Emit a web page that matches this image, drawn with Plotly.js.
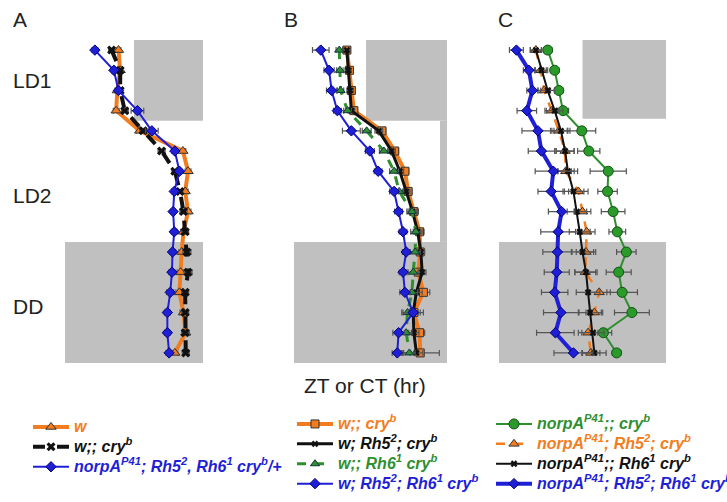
<!DOCTYPE html>
<html>
<head>
<meta charset="utf-8">
<script src="https://cdn.plot.ly/plotly-3.0.1.min.js"></script>
<style>
  body { margin: 0; background: #fff; }
  #chart { width: 727px; height: 502px; }
</style>
</head>
<body>
<div id="chart"></div>
<script>
// days 1..16 (LD1 = 1-4, LD2 = 5-10, DD = 11-16)
const days = [1, 2, 3, 4, 5, 6, 7, 8, 9, 10, 11, 12, 13, 14, 15, 16];

// Panel A: peak phase (ZT/CT hours)
const aW      = [9.3, 9.6, 9.1, 8.9, 13.0, 20.5, 21.4, 20.9, 21.4, 20.6, 20.3, 20.1, 19.9, 20.6, 21.0, 19.1];
const aWErr   = [0.4, 0.4, 0.4, 0.5, 0.6, 0.5, 0.5, 0.5, 0.5, 0.5, 0.5, 0.6, 0.6, 0.6, 0.6, 0.5];
const aCry    = [8.1, 9.6, 9.6, 10.4, 13.6, 16.8, 19.1, 20.0, 20.6, 20.9, 21.2, 21.4, 20.9, 20.9, 20.9, 21.0];
const aCryErr = [0.5, 0.4, 0.4, 0.6, 0.6, 0.6, 0.5, 0.5, 0.6, 0.6, 0.7, 0.7, 0.6, 0.6, 0.6, 0.6];
const aNorp   = [5.2, 8.5, 9.3, 12.6, 15.1, 19.1, 19.9, 19.0, 18.8, 19.0, 18.7, 18.6, 18.3, 17.8, 17.8, 18.1];
const aNorpErr= [0.5, 0.4, 0.4, 1.1, 1.1, 0.5, 0.4, 0.4, 0.4, 0.5, 0.5, 0.5, 0.6, 0.5, 0.5, 0.5];

// Panel B
const bCry     = [8.3, 8.7, 9.0, 9.4, 13.8, 15.8, 17.4, 17.9, 18.8, 19.7, 19.8, 19.5, 20.3, 18.8, 19.7, 19.8];
const bCryErr  = [0.5, 0.5, 0.5, 0.5, 0.6, 0.6, 0.6, 0.6, 0.7, 0.7, 0.6, 0.6, 1.0, 1.0, 0.8, 3.0];
const bRh5     = [8.3, 8.5, 8.8, 9.0, 13.3, 15.3, 16.6, 17.6, 18.6, 19.4, 19.9, 20.1, 19.2, 18.7, 18.8, 19.2];
const bRh5Err  = [0.5, 0.5, 0.5, 0.5, 0.6, 0.6, 0.6, 0.6, 0.7, 0.7, 0.6, 0.6, 0.9, 0.8, 0.8, 1.0];
const bRh6     = [7.1, 7.2, 7.3, 8.4, 11.4, 14.1, 15.7, 16.5, 18.5, 19.1, 19.0, 18.7, 18.5, 17.8, 17.6, 18.1];
const bRh6Err  = [0.5, 0.5, 0.5, 0.6, 0.7, 0.7, 0.7, 0.7, 0.8, 0.8, 0.8, 0.8, 0.9, 0.9, 0.9, 0.9];
const bRh56    = [4.2, 5.5, 5.9, 6.8, 9.0, 11.9, 13.2, 15.7, 16.4, 17.1, 17.6, 17.1, 17.4, 18.7, 16.4, 16.2];
const bRh56Err = [1.3, 0.8, 0.8, 0.6, 1.4, 0.7, 0.6, 0.7, 0.6, 0.6, 0.6, 0.6, 0.8, 1.6, 0.9, 0.8];

// Panel C
const cNorp      = [7.0, 8.0, 8.6, 9.2, 11.9, 12.9, 15.7, 15.6, 16.4, 17.0, 18.3, 17.2, 17.7, 19.1, 15.0, 16.9];
const cNorpErr   = [0.6, 0.6, 0.6, 0.8, 2.0, 1.6, 2.6, 1.4, 1.7, 1.2, 1.4, 1.8, 2.2, 2.5, 1.2, 0.6];
const cNorpRh5   = [5.3, 6.0, 6.5, 7.6, 8.6, 9.5, 9.6, 11.4, 12.0, 12.6, 12.5, 12.4, 14.4, 13.7, 12.8, 13.2];
const cNorpRh5Err= [0.8, 0.8, 0.9, 1.0, 1.2, 1.3, 1.2, 1.4, 1.2, 1.2, 1.4, 1.5, 1.6, 1.2, 1.4, 1.3];
const cNorpRh6   = [5.3, 6.1, 7.0, 8.0, 8.9, 9.5, 9.9, 10.7, 11.2, 11.6, 12.0, 12.5, 12.8, 13.1, 13.5, 13.7];
const cNorpRh6Err= [0.8, 0.9, 1.0, 1.2, 1.3, 1.3, 1.4, 1.5, 1.4, 1.5, 1.6, 1.6, 1.7, 1.6, 1.6, 1.7];
const cNorpRh56  = [2.5, 4.3, 4.8, 4.0, 5.6, 6.1, 7.8, 7.5, 9.0, 8.5, 8.4, 8.3, 8.0, 8.9, 8.1, 10.7];
const cNorpRh56Err=[1.0, 0.8, 0.8, 1.4, 2.3, 1.9, 2.6, 1.9, 1.9, 2.5, 2.1, 1.8, 1.9, 2.5, 2.7, 2.8];

const ORANGE = '#f27d20';
const BLUE = '#1f1fd6';
const GREEN = '#2f8f2f';
const BLACK = '#111111';
const GRAY = '#c0c0c0';

// helper to build a trace row
function series(x, err, name, xaxis, legend, line, marker) {
    return {
        x: x, y: days, name: name,
        xaxis: xaxis, yaxis: 'y', legend: legend,
        type: 'scatter', mode: 'lines+markers',
        line: line, marker: marker,
        cliponaxis: false,
        error_x: { type: 'data', array: err, visible: true, color: '#555', thickness: 1.2, width: 3 }
    };
}

// legend labels: coloured bold italic, a bit larger than the legend's row spacing font
const sp = (c, t) => `<span style="color:${c};font-size:16px"><b><i>${t}</i></b></span>`;

const traces = [
    // A
    series(aW, aWErr, sp(ORANGE, 'w'), 'x', 'legend',
        { color: ORANGE, width: 4 },
        { symbol: 'triangle-up', size: 9, color: ORANGE, line: { color: '#333', width: 1 } }),
    series(aCry, aCryErr, sp(BLACK, 'w;; cry<sup>b</sup>'), 'x', 'legend',
        { color: BLACK, width: 4, dash: 'dash' },
        { symbol: 'x', size: 8, color: BLACK }),
    series(aNorp, aNorpErr, sp(BLUE, 'norpA<sup>P41</sup>; Rh5<sup>2</sup>, Rh6<sup>1</sup> cry<sup>b</sup>/+'), 'x', 'legend',
        { color: BLUE, width: 2 },
        { symbol: 'diamond', size: 8, color: BLUE, line: { color: '#000080', width: 1 } }),
    // B
    series(bCry, bCryErr, sp(ORANGE, 'w;; cry<sup>b</sup>'), 'x2', 'legend2',
        { color: ORANGE, width: 4 },
        { symbol: 'square', size: 8, color: ORANGE, line: { color: '#333', width: 1 } }),
    series(bRh5, bRh5Err, sp(BLACK, 'w; Rh5<sup>2</sup>; cry<sup>b</sup>'), 'x2', 'legend2',
        { color: BLACK, width: 3 },
        { symbol: 'x', size: 6, color: BLACK }),
    series(bRh6, bRh6Err, sp(GREEN, 'w;; Rh6<sup>1</sup> cry<sup>b</sup>'), 'x2', 'legend2',
        { color: GREEN, width: 3, dash: 'dash' },
        { symbol: 'triangle-up', size: 8, color: GREEN, line: { color: '#134', width: 1 } }),
    series(bRh56, bRh56Err, sp(BLUE, 'w; Rh5<sup>2</sup>; Rh6<sup>1</sup> cry<sup>b</sup>'), 'x2', 'legend2',
        { color: BLUE, width: 2 },
        { symbol: 'diamond', size: 8, color: BLUE, line: { color: '#000080', width: 1 } }),
    // C
    series(cNorp, cNorpErr, sp(GREEN, 'norpA<sup>P41</sup>;; cry<sup>b</sup>'), 'x3', 'legend3',
        { color: GREEN, width: 2 },
        { symbol: 'circle', size: 10, color: '#2a9a2a', line: { color: '#145214', width: 1 } }),
    series(cNorpRh5, cNorpRh5Err, sp(ORANGE, 'norpA<sup>P41</sup>; Rh5<sup>2</sup>; cry<sup>b</sup>'), 'x3', 'legend3',
        { color: ORANGE, width: 2.5, dash: 'dash' },
        { symbol: 'triangle-up', size: 9, color: ORANGE, line: { color: '#333', width: 1 } }),
    series(cNorpRh6, cNorpRh6Err, sp(BLACK, 'norpA<sup>P41</sup>;; Rh6<sup>1</sup> cry<sup>b</sup>'), 'x3', 'legend3',
        { color: BLACK, width: 2 },
        { symbol: 'x', size: 6, color: BLACK }),
    series(cNorpRh56, cNorpRh56Err, sp(BLUE, 'norpA<sup>P41</sup>; Rh5<sup>2</sup>; Rh6<sup>1</sup> cry<sup>b</sup>'), 'x3', 'legend3',
        { color: BLUE, width: 4 },
        { symbol: 'diamond', size: 8, color: BLUE, line: { color: '#000080', width: 1 } })
];

// dark phases (ZT12-24 in LD, whole day in DD)
const rect = (xref, x0, x1, y0, y1) => ({
    type: 'rect', xref: xref, yref: 'y', x0: x0, x1: x1, y0: y0, y1: y1,
    fillcolor: GRAY, line: { width: 0 }, layer: 'below'
});
const shapes = [
    rect('x', 12, 24, 0.5, 4.5), rect('x', 0, 24, 10.5, 16.5),
    rect('x2', 11.3, 24, 0.5, 4.5), rect('x2', 22.9, 24, 4.5, 10.5), rect('x2', 0, 24, 10.5, 16.5),
    rect('x3', 12, 24, 0.35, 4.4), rect('x3', 0, 24, 10.5, 16.7)
];

const txt = (t, x, y, size) => ({
    text: t, x: x, y: y, xref: 'paper', yref: 'paper', showarrow: false,
    xanchor: 'left', yanchor: 'middle', font: { size: size, color: '#222' }
});
const W = 727, H = 502;
const annotations = [
    txt('A', 11 / W, 1 - 20 / H, 21),
    txt('B', 282 / W, 1 - 20 / H, 21),
    txt('C', 496 / W, 1 - 20 / H, 21),
    txt('LD1', 11 / W, 1 - 81 / H, 21),
    txt('LD2', 11 / W, 1 - 195 / H, 21),
    txt('DD', 11 / W, 1 - 306 / H, 21),
    txt('ZT or CT (hr)', 302 / W, 1 - 385 / H, 21)
];

const hidden = { visible: false, range: [0, 24], fixedrange: true };
const legendBase = { font: { family: 'Arial, Liberation Sans', size: 13 }, bgcolor: 'rgba(0,0,0,0)',
    xanchor: 'left', yanchor: 'top', traceorder: 'normal', itemwidth: 36 };

const layout = {
    width: W, height: H,
    margin: { l: 0, r: 0, t: 0, b: 0, autoexpand: false },
    paper_bgcolor: '#fff', plot_bgcolor: 'rgba(0,0,0,0)',
    font: { family: 'Arial, Liberation Sans', color: '#222' },
    showlegend: true,
    xaxis: Object.assign({ domain: [65 / W, 203 / W], anchor: 'y' }, hidden),
    xaxis2: Object.assign({ domain: [294 / W, 447 / W], anchor: 'y' }, hidden),
    xaxis3: Object.assign({ domain: [499 / W, 666 / W], anchor: 'y' }, hidden),
    yaxis: { visible: false, domain: [1 - 363 / H, 1 - 40 / H], range: [16.5, 0.5], fixedrange: true },
    legend: Object.assign({ x: 28 / W, y: 1 - 412 / H }, legendBase),
    legend2: Object.assign({ x: 292 / W, y: 1 - 409 / H }, legendBase),
    legend3: Object.assign({ x: 491 / W, y: 1 - 409 / H }, legendBase),
    shapes: shapes,
    annotations: annotations
};

Plotly.newPlot('chart', traces, layout, { displayModeBar: false, staticPlot: true });
</script>
</body>
</html>
